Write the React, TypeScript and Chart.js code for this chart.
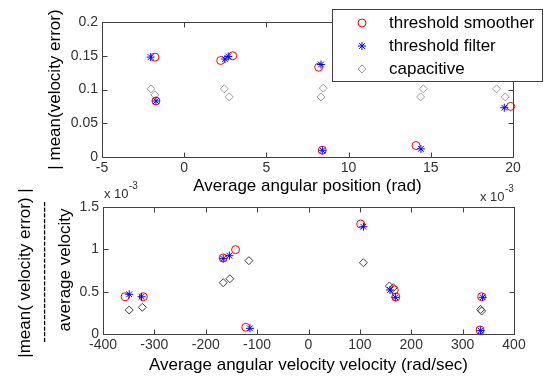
import React, { useEffect, useRef } from 'react';
import { Chart, registerables } from 'chart.js';

Chart.register(...registerables);

const FONT = '"Liberation Sans", Arial, sans-serif';

// ---- Top plot: error vs. average angular position ----
const posSmootherX = [-1.78, -1.72, 2.22, 2.95, 8.18, 8.4, 14.1, 19.86];
const posSmootherY = [0.148, 0.083, 0.143, 0.15, 0.133, 0.01, 0.017, 0.075];
const posFilterX = [-2.04, -1.72, 2.48, 2.68, 8.32, 8.4, 14.4, 19.47];
const posFilterY = [0.148, 0.083, 0.145, 0.149, 0.137, 0.01, 0.012, 0.073];
const posCapX = [-2.02, -1.78, 2.44, 2.74, 8.46, 8.32, 14.55, 14.38, 19.0, 19.53];
const posCapY = [0.101, 0.092, 0.101, 0.089, 0.102, 0.089, 0.101, 0.089, 0.101, 0.089];
const posXTicks = [-5, 0, 5, 10, 15, 20];
const posYTicks = [0, 0.05, 0.1, 0.15, 0.2];

// ---- Bottom plot: relative error (x 10^-3) vs. average angular velocity ----
const velSmootherX = [-357, -321.5, -166, -142, -122, 101.6, 167, 170, 337, 334];
const velSmootherY = [0.44, 0.44, 0.898, 0.996, 0.079, 1.299, 0.52, 0.437, 0.44, 0.047];
const velFilterX = [-349, -325, -166, -154, -114, 106.8, 158.6, 169, 339, 335];
const velFilterY = [0.469, 0.44, 0.89, 0.925, 0.067, 1.267, 0.52, 0.433, 0.433, 0.04];
const velCapX = [-349, -323.5, -166, -153, -116, 106.8, 157.5, 165, 337, 335];
const velCapY = [0.283, 0.315, 0.606, 0.653, 0.866, 0.842, 0.567, 0.547, 0.272, 0.29];
const velXTicks = [-400, -300, -200, -100, 0, 100, 200, 300, 400];
const velYTicks = [0, 0.5, 1, 1.5];

const legendLabels = ['threshold smoother', 'threshold filter', 'capacitive'];

const zip = (xs: number[], ys: number[]) => xs.map((x, i) => ({ x, y: ys[i] }));

const framePlugin = {
  id: 'frame',
  beforeDatasetsDraw(chart: any) {
    const { ctx, chartArea: a, scales } = chart;
    const L = Math.round(a.left) + 0.5;
    const R = Math.round(a.right) + 0.5;
    const T = Math.round(a.top) + 0.5;
    const B = Math.round(a.bottom) + 0.5;
    ctx.save();
    ctx.strokeStyle = '#404040';
    ctx.lineWidth = 1;
    ctx.strokeRect(L, T, R - L, B - T);
    const tl = 5;
    ctx.beginPath();
    scales.x.ticks.forEach((t: any) => {
      const px = Math.round(scales.x.getPixelForValue(t.value)) + 0.5;
      ctx.moveTo(px, B);
      ctx.lineTo(px, B - tl);
      ctx.moveTo(px, T);
      ctx.lineTo(px, T + tl);
    });
    scales.y.ticks.forEach((t: any) => {
      const py = Math.round(scales.y.getPixelForValue(t.value)) + 0.5;
      ctx.moveTo(L, py);
      ctx.lineTo(L + tl, py);
      ctx.moveTo(R, py);
      ctx.lineTo(R - tl, py);
    });
    ctx.stroke();
    ctx.restore();
  },
};

function drawMarker(ctx: CanvasRenderingContext2D, kind: string, x: number, y: number, color: string) {
  ctx.save();
  ctx.strokeStyle = color;
  ctx.lineWidth = 1;
  ctx.beginPath();
  if (kind === 'circle') {
    ctx.arc(x, y, 4, 0, Math.PI * 2);
  } else if (kind === 'star') {
    const r = 4;
    ctx.moveTo(x - r, y); ctx.lineTo(x + r, y);
    ctx.moveTo(x, y - r); ctx.lineTo(x, y + r);
    const d = r * Math.SQRT1_2;
    ctx.moveTo(x - d, y - d); ctx.lineTo(x + d, y + d);
    ctx.moveTo(x - d, y + d); ctx.lineTo(x + d, y - d);
  } else {
    const r = 4;
    ctx.moveTo(x - r, y); ctx.lineTo(x, y - r); ctx.lineTo(x + r, y); ctx.lineTo(x, y + r);
    ctx.closePath();
  }
  ctx.stroke();
  ctx.restore();
}

const legendPlugin = {
  id: 'boxLegend',
  afterDraw(chart: any) {
    const ctx: CanvasRenderingContext2D = chart.ctx;
    ctx.save();
    ctx.fillStyle = '#ffffff';
    ctx.strokeStyle = '#404040';
    ctx.lineWidth = 1;
    ctx.fillRect(332.5, 9.5, 210, 72);
    ctx.strokeRect(332.5, 9.5, 210, 72);
    const kinds = ['circle', 'star', 'rectRot'];
    const colors = ['#ff0000', '#0000ff', '#a0a0a0'];
    ctx.font = `17px ${FONT}`;
    ctx.fillStyle = '#000';
    ctx.textBaseline = 'middle';
    ctx.textAlign = 'left';
    legendLabels.forEach((lab, i) => {
      const y = 23 + i * 23;
      drawMarker(ctx, kinds[i], 362, y, colors[i]);
      ctx.fillText(lab, 389, y);
    });
    ctx.restore();
  },
};

const bottomTextPlugin = {
  id: 'bottomText',
  afterDraw(chart: any) {
    const ctx: CanvasRenderingContext2D = chart.ctx;
    ctx.save();
    ctx.fillStyle = '#000';
    const rot = (text: string, x: number, y: number) => {
      ctx.save();
      ctx.translate(x, y);
      ctx.rotate(-Math.PI / 2);
      ctx.textAlign = 'center';
      ctx.textBaseline = 'middle';
      ctx.fillText(text, 0, 0);
      ctx.restore();
    };
    ctx.font = `17px ${FONT}`;
    rot('|mean( velocity error) |', 25, 273);
    rot('-'.repeat(25), 44, 272);
    rot('average velocity', 65, 270);
    // exponent labels
    ctx.fillStyle = '#333';
    ctx.textAlign = 'left';
    ctx.textBaseline = 'alphabetic';
    ctx.font = `13px ${FONT}`;
    ctx.fillText('x 10', 104, 198);
    ctx.fillText('x 10', 480, 201);
    ctx.font = `10px ${FONT}`;
    ctx.fillText('-3', 129, 189);
    ctx.fillText('-3', 505, 192);
    ctx.restore();
  },
};

function makeScales(opts: {
  xMin: number; xMax: number; yMin: number; yMax: number;
  xTicks: number[]; yTicks: number[]; xTitle: string; yTitle?: string;
  xH: number; yW: number; xTitlePad: number; yTitlePad: number;
}) {
  const tickFont = { size: 14, family: FONT };
  const zeroPad = (s: any) => {
    s.paddingLeft = 0; s.paddingRight = 0; s.paddingTop = 0; s.paddingBottom = 0;
  };
  return {
    x: {
      type: 'linear',
      min: opts.xMin,
      max: opts.xMax,
      afterBuildTicks: (s: any) => { s.ticks = opts.xTicks.map((v) => ({ value: v })); },
      afterFit: (s: any) => { s.height = opts.xH; zeroPad(s); },
      grid: { display: false, drawTicks: false },
      border: { display: false },
      ticks: {
        font: tickFont, color: '#333', padding: 3, maxRotation: 0, minRotation: 0, autoSkip: false,
        callback: (v: any) => String(v),
      },
      title: {
        display: true, text: opts.xTitle, color: '#000',
        font: { size: 17, family: FONT }, padding: { top: 0, bottom: opts.xTitlePad },
      },
    },
    y: {
      type: 'linear',
      min: opts.yMin,
      max: opts.yMax,
      afterBuildTicks: (s: any) => { s.ticks = opts.yTicks.map((v) => ({ value: v })); },
      afterFit: (s: any) => { s.width = opts.yW; zeroPad(s); },
      grid: { display: false, drawTicks: false },
      border: { display: false },
      ticks: {
        font: tickFont, color: '#333', padding: 4, autoSkip: false,
        callback: (v: any) => String(v),
      },
      title: {
        display: !!opts.yTitle, text: opts.yTitle || '', color: '#000',
        font: { size: 17, family: FONT }, padding: { top: opts.yTitlePad, bottom: 0 },
      },
    },
  };
}

function datasets(sx: number[], sy: number[], fx: number[], fy: number[], cx: number[], cy: number[], capColor: string) {
  return [
    {
      label: legendLabels[1], data: zip(fx, fy), pointStyle: 'star', pointRadius: 4,
      borderColor: '#0000ff', backgroundColor: 'rgba(0,0,0,0)', borderWidth: 1, showLine: false,
    },
    {
      label: legendLabels[0], data: zip(sx, sy), pointStyle: 'circle', pointRadius: 4,
      borderColor: '#ff0000', backgroundColor: 'rgba(0,0,0,0)', borderWidth: 1, showLine: false,
    },
    {
      label: legendLabels[2], data: zip(cx, cy), pointStyle: 'rectRot', pointRadius: 4,
      borderColor: capColor, backgroundColor: 'rgba(0,0,0,0)', borderWidth: 1, showLine: false,
    },
  ];
}

export default function App() {
  const topRef = useRef<HTMLCanvasElement>(null);
  const botRef = useRef<HTMLCanvasElement>(null);

  useEffect(() => {
    document.body.style.margin = '0';
    document.body.style.overflow = 'hidden';
    document.body.style.background = '#fff';

    const common = {
      responsive: false,
      maintainAspectRatio: false,
      animation: false,
      events: [],
      plugins: { legend: { display: false }, tooltip: { enabled: false } },
    };

    const top = new Chart(topRef.current as HTMLCanvasElement, {
      type: 'scatter',
      data: { datasets: datasets(posSmootherX, posSmootherY, posFilterX, posFilterY, posCapX, posCapY, '#a0a0a0') as any },
      options: {
        ...common,
        clip: false,
        layout: { autoPadding: false, padding: { left: 40, top: 22, right: 33, bottom: 181 } },
        scales: makeScales({
          xMin: -5, xMax: 20, yMin: 0, yMax: 0.2, xTicks: posXTicks, yTicks: posYTicks,
          xTitle: 'Average angular position (rad)', yTitle: '| mean(velocity error)',
          xH: 41, yW: 62, xTitlePad: 1, yTitlePad: 5,
        }),
      } as any,
      plugins: [framePlugin, legendPlugin],
    });

    const bot = new Chart(botRef.current as HTMLCanvasElement, {
      type: 'scatter',
      data: { datasets: datasets(velSmootherX, velSmootherY, velFilterX, velFilterY, velCapX, velCapY, '#404040') as any },
      options: {
        ...common,
        clip: false,
        layout: { autoPadding: false, padding: { left: 40, top: 207, right: 32, bottom: 0 } },
        scales: makeScales({
          xMin: -400, xMax: 400, yMin: 0, yMax: 1.5, xTicks: velXTicks, yTicks: velYTicks,
          xTitle: 'Average angular velocity velocity (rad/sec)',
          xH: 45, yW: 63, xTitlePad: 3, yTitlePad: 0,
        }),
      } as any,
      plugins: [framePlugin, bottomTextPlugin],
    });

    return () => {
      top.destroy();
      bot.destroy();
    };
  }, []);

  const cs: React.CSSProperties = { position: 'absolute', left: 0, top: 0, width: 546, height: 379 };
  return (
    <div style={{ position: 'relative', width: 546, height: 379, background: '#fff' }}>
      <canvas ref={topRef} width={546} height={379} style={cs} />
      <canvas ref={botRef} width={546} height={379} style={cs} />
    </div>
  );
}
